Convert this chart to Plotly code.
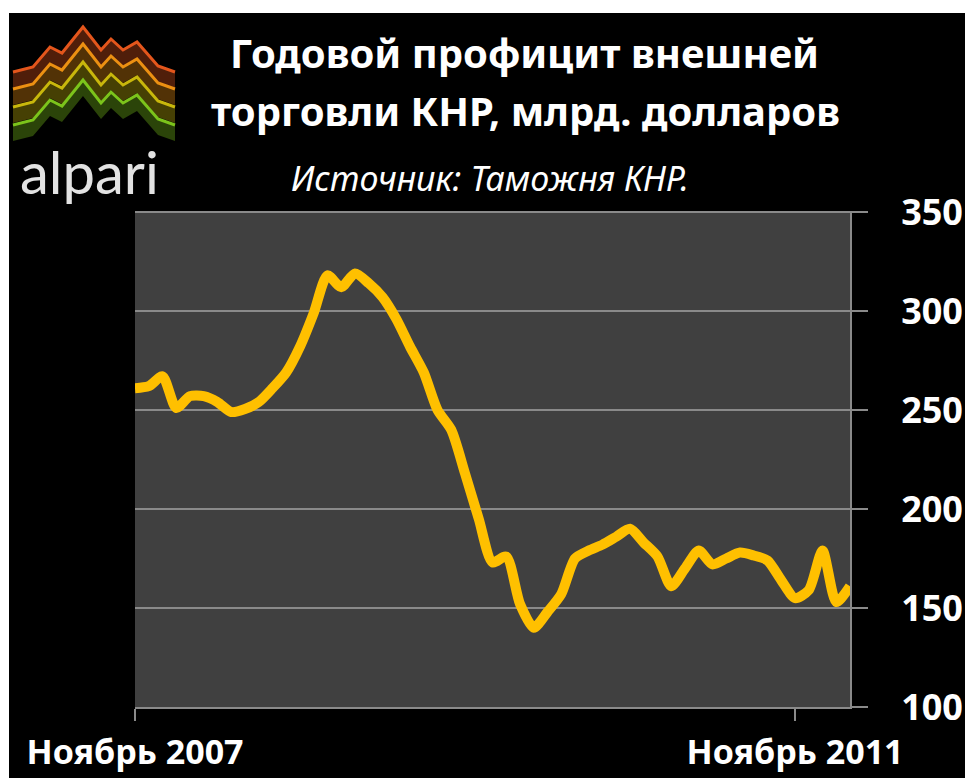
import plotly.graph_objects as go
import pandas as pd

# ---- data ----
months = [d.strftime("%Y-%m") for d in pd.date_range("2007-11-01", periods=53, freq="MS")]
surplus = [261, 262, 267, 251, 257, 257, 254, 249, 250.5, 254,
           261, 269, 282, 299, 318, 312, 319, 314, 307, 296,
           282, 269, 250, 240, 218, 195, 173, 176, 152, 140,
           148, 157, 175, 179, 182, 186, 190, 183, 176, 161,
           170, 179, 172, 175, 178, 176.5, 174, 164, 155, 159,
           179, 153, 161]
x_tick_vals = ["2007-11", "2011-11"]
x_tick_text = ["Ноябрь 2007", "Ноябрь 2011"]
y_tick_vals = [100, 150, 200, 250, 300, 350]

title_lines = ["Годовой профицит внешней", "торговли КНР, млрд. долларов"]
subtitle = "Источник: Таможня КНР."

# ---- layout geometry ----
W, H = 965, 778
L, R, T, B = 135, 115, 212, 71
PW, PH = W - L - R, H - T - B


def px(x):
    return (x - L) / PW


def py(y):
    return (H - B - y) / PH


fig = go.Figure()
fig.add_trace(go.Scatter(
    x=months, y=surplus, mode="lines",
    line=dict(color="#FFC000", width=10, shape="spline", smoothing=0.7),
    hoverinfo="skip", showlegend=False,
))

grid = "#8a8a8a"
xtickfont = dict(family="Noto Sans", size=34, color="white", weight="bold")
ytickfont = dict(family="Noto Sans", size=36, color="white", weight="bold")

fig.update_layout(
    width=W, height=H,
    margin=dict(l=L, r=R, t=T, b=B, pad=0, autoexpand=False),
    paper_bgcolor="black",
    plot_bgcolor="#404040",
    showlegend=False,
    xaxis=dict(
        type="category", categoryorder="array", categoryarray=months,
        range=[0, len(months) - 1], automargin=False,
        tickmode="array", tickvals=x_tick_vals, ticktext=x_tick_text,
        ticks="outside", ticklen=12, tickwidth=2, tickcolor=grid,
        showline=True, linecolor=grid, linewidth=2,
        showgrid=False, zeroline=False,
        tickfont=xtickfont, ticklabelstandoff=2,
    ),
    yaxis=dict(
        side="right", range=[100, 350], automargin=False,
        tickmode="array", tickvals=y_tick_vals,
        ticks="outside", ticklen=16, tickwidth=2, tickcolor=grid,
        showline=True, linecolor=grid, linewidth=2,
        showgrid=True, gridcolor=grid, gridwidth=2, zeroline=False,
        tickfont=ytickfont, ticklabelstandoff=26,
    ),
)

# top frame line at 350 (gridline at range edge)
fig.add_shape(type="line", xref="paper", yref="paper", x0=0, x1=(866 - L) / PW, y0=1, y1=1,
              line=dict(color=grid, width=2))

# white borders of the picture
fig.add_shape(type="rect", xref="paper", yref="paper", x0=px(-5), x1=px(W + 5), y0=py(13), y1=py(-5),
              line=dict(width=0), fillcolor="white")
fig.add_shape(type="rect", xref="paper", yref="paper", x0=px(-5), x1=px(9), y0=py(H + 5), y1=py(-5),
              line=dict(width=0), fillcolor="white")

# titles
fig.add_annotation(x=px(524), y=py(53), xref="paper", yref="paper", text=title_lines[0],
                   showarrow=False, xanchor="center", yanchor="middle",
                   font=dict(family="Noto Sans", size=40, color="white", weight="bold"))
fig.add_annotation(x=px(525), y=py(110), xref="paper", yref="paper", text=title_lines[1],
                   showarrow=False, xanchor="center", yanchor="middle",
                   font=dict(family="Noto Sans", size=40, color="white", weight="bold"))
fig.add_annotation(x=px(490), y=py(178), xref="paper", yref="paper", text="<i>" + subtitle + "</i>",
                   showarrow=False, xanchor="center", yanchor="middle",
                   font=dict(family="Noto Sans", size=34, color="white"))

# alpari logo (decoration)
mountain = [(13, 72), (33, 67), (50, 47), (62, 53), (83, 27), (101, 50), (111, 39),
            (123, 50), (137, 42), (158, 66), (175, 72)]
logo_colors = ["#E4561C", "#EC9012", "#C9B70C", "#7CC41B"]
shifts = [0, 17, 35, 53]
for col, s in zip(logo_colors, shifts):
    pts = [(x, y + s) for x, y in mountain]
    fill_pts = pts + [(x, y + 16) for x, y in reversed(pts)]
    d = "M " + " L ".join(f"{px(x):.5f},{py(y):.5f}" for x, y in fill_pts) + " Z"
    fig.add_shape(type="path", xref="paper", yref="paper", path=d,
                  line=dict(width=0), fillcolor=col, opacity=0.35)
    d2 = "M " + " L ".join(f"{px(x):.5f},{py(y):.5f}" for x, y in pts)
    fig.add_shape(type="path", xref="paper", yref="paper", path=d2,
                  line=dict(color=col, width=3))

fig.add_annotation(x=px(89), y=py(172), xref="paper", yref="paper", text="alpari",
                   showarrow=False, xanchor="center", yanchor="middle",
                   font=dict(family="Lato", size=58, color="#e2e2e2"))

fig.write_html("out.html", config={"displayModeBar": False},
               post_script="document.body.style.margin='0';document.body.style.overflow='hidden';")
